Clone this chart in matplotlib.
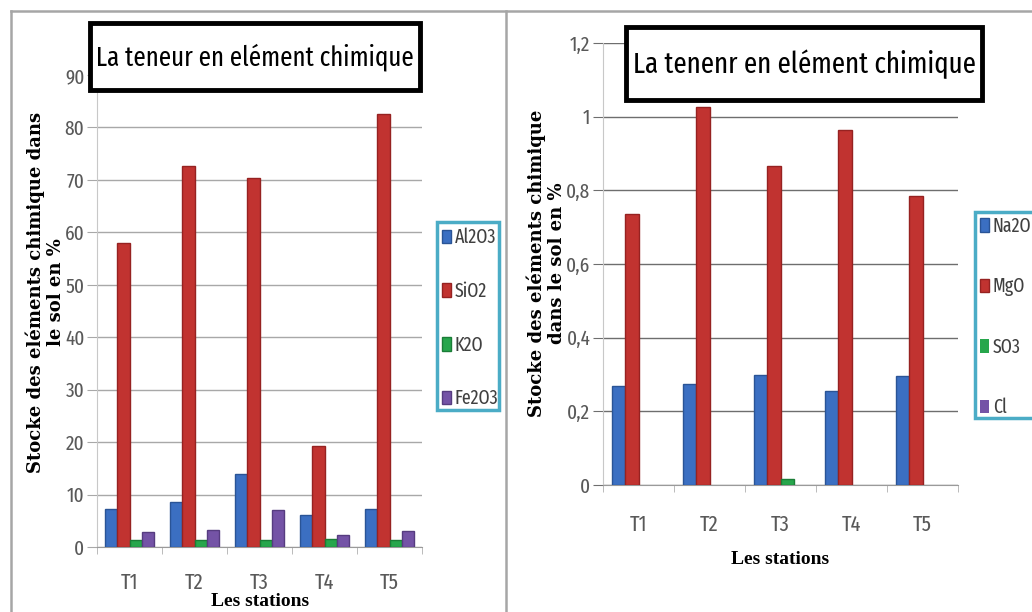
import numpy as np
import matplotlib
matplotlib.use("Agg")
import matplotlib.pyplot as plt
from matplotlib import font_manager as fm
from matplotlib.patches import Rectangle
from matplotlib.lines import Line2D

W, H = 1032, 612

stations = ['T1', 'T2', 'T3', 'T4', 'T5']

# major oxides (%)
major_names = ['Al2O3', 'SiO2', 'K2O', 'Fe2O3']
al2o3 = [7.2, 8.6, 13.9, 6.1, 7.3]
sio2 = [58.0, 72.7, 70.3, 19.3, 82.5]
k2o = [1.4, 1.4, 1.4, 1.6, 1.4]
fe2o3 = [2.9, 3.2, 7.1, 2.3, 3.1]

# minor elements (%)
minor_names = ['Na2O', 'MgO', 'SO3', 'Cl']
na2o = [0.268, 0.274, 0.300, 0.254, 0.295]
mgo = [0.737, 1.025, 0.866, 0.965, 0.785]
so3 = [0.0, 0.0, 0.017, 0.0, 0.0]
cl = [0.0, 0.0, 0.0, 0.0, 0.0]

left_ticks = [0, 10, 20, 30, 40, 50, 60, 70, 80, 90]
right_ticks = [0, 0.2, 0.4, 0.6, 0.8, 1.0, 1.2]

colors = ['#3b6fc2', '#c13330', '#27a64c', '#7453a6']
edges = ['#2a5496', '#962221', '#1b7d37', '#563c80']


def find_narrow_sans():
    # narrowest installed regular sans face, Lato if none
    rank = {'extra-condensed': 0, 'ultra-condensed': 0, 'condensed': 1, 'semi-condensed': 2}
    best, best_rank = None, 99
    for f in fm.fontManager.ttflist:
        if 'Serif' in f.name or 'Mono' in f.name or f.style != 'normal':
            continue
        w = f.weight if isinstance(f.weight, int) else {'normal': 400, 'regular': 400}.get(str(f.weight), 700)
        if w != 400:
            continue
        fname = f.fname.replace('-', '').replace('_', '')
        if 'ExtraCondensed' in fname or 'UltraCondensed' in fname:
            r = 0
        elif f.stretch in rank:
            r = rank[f.stretch]
        elif 'Narrow' in f.name or 'SemiCondensed' in fname:
            r = 2
        elif 'Condensed' in f.name or 'Condensed' in fname:
            r = 1
        else:
            continue
        if r < best_rank:
            best, best_rank = f, r
    if best is None:
        return fm.FontProperties(family='Lato')
    return fm.FontProperties(fname=best.fname)


narrow = find_narrow_sans()
serif_bold = fm.FontProperties(family='DejaVu Serif', weight='bold', stretch='normal')


def fp(size, base=narrow):
    p = base.copy()
    p.set_size(size)
    return p


def fx(px):
    return px / W


def fy(py):
    return 1 - py / H


fig = plt.figure(figsize=(W / 100, H / 100), dpi=100)
fig.patch.set_facecolor('white')
renderer = fig.canvas.get_renderer()


def fit_length(t, target):
    # scale a text's font size so that it spans `target` pixels
    bb = t.get_window_extent(renderer)
    t.set_fontsize(t.get_fontsize() * target / bb.width)


def draw_panel(ax, series, names, ymax, ticks, ticklabels, gridcolor, xpad):
    x = np.arange(len(stations))
    bw = 0.185
    for i, (vals, name) in enumerate(zip(series, names)):
        lw = [1.0 if v > 0 else 0 for v in vals]
        ax.bar(x + (i - 1.5) * bw, vals, bw, color=colors[i], label=name,
               edgecolor=edges[i], linewidth=lw, zorder=3)
    ax.set_xlim(-0.5, len(stations) - 0.5)
    ax.set_ylim(0, ymax)
    ax.set_yticks(ticks)
    ax.set_yticklabels(ticklabels, fontproperties=fp(15), color='#595959')
    ax.set_xticks(x)
    ax.set_xticklabels(stations, fontproperties=fp(16), color='#595959')
    ax.set_xticks(np.arange(-0.5, len(stations)), minor=True)
    ax.tick_params(axis='x', which='major', length=0, pad=xpad)
    ax.tick_params(axis='x', which='minor', length=5, color='#b0b0b0', direction='out')
    ax.tick_params(axis='y', length=7, color=gridcolor, pad=2)
    ax.yaxis.grid(True, color=gridcolor, linewidth=1.0, zorder=0)
    for s in ['top', 'right']:
        ax.spines[s].set_visible(False)
    ax.spines['left'].set_color('#c8c8c8')
    ax.spines['bottom'].set_color('#9a9a9a')


def title_box(x0, y0, x1, y1, text):
    fig.patches.append(Rectangle((fx(x0), fy(y1)), fx(x1) - fx(x0), fy(y0) - fy(y1),
                                 transform=fig.transFigure, facecolor='white',
                                 edgecolor='black', linewidth=3.5, zorder=5))
    t = fig.text(fx((x0 + x1) / 2), fy((y0 + y1) / 2 + 1), text, ha='center', va='center',
                 fontproperties=fp(24), color='black', zorder=6)
    fit_length(t, (x1 - x0) - 14)


def y_labels(xa, xb, yc, line1, line2):
    kw = dict(rotation=90, ha='center', va='center', fontproperties=fp(13, serif_bold))
    fig.text(fx(xa), fy(yc), line1, **kw)
    fig.text(fx(xb), fy(yc), line2, **kw)


def legend(ax, x0, y0, x1, y1, spacing):
    fig.patches.append(Rectangle((fx(x0), fy(y1)), fx(x1) - fx(x0), fy(y0) - fy(y1),
                                 transform=fig.transFigure, facecolor='white',
                                 edgecolor='#4bacc6', linewidth=2.5, zorder=4))
    leg = fig.legend(*ax.get_legend_handles_labels(), loc='center left',
                     bbox_to_anchor=(fx(x0 + 5), fy((y0 + y1) / 2 + 2)), borderaxespad=0,
                     frameon=False, labelspacing=spacing, handlelength=0.45,
                     handleheight=0.7, handletextpad=0.2, borderpad=0, prop=fp(14))
    leg.set_zorder(6)
    for t in leg.get_texts():
        t.set_color('#404040')


# panel frames
frame = dict(color='#a6a6a6', linewidth=1.8, transform=fig.transFigure)
fig.add_artist(Line2D([fx(11), fx(1032)], [fy(11), fy(11)], **frame))
fig.add_artist(Line2D([fx(11), fx(11)], [fy(11), fy(612)], **frame))
fig.add_artist(Line2D([fx(506), fx(506)], [fy(11), fy(612)], **frame))

# left chart
ax1 = fig.add_axes([fx(97), fy(547), fx(422) - fx(97), fy(75) - fy(547)])
draw_panel(ax1, [al2o3, sio2, k2o, fe2o3], major_names, 90, left_ticks,
           [str(t) for t in left_ticks], '#a8a8a8', 18)
y_labels(35, 56, 292, 'Stocke des eléments chimique dans', 'le sol en %')
fig.text(fx(260), fy(602), 'Les stations', ha='center', va='center',
         fontfamily='Liberation Serif', fontweight='bold', fontsize=14)
title_box(90, 23, 420, 90, 'La teneur en elément chimique')
legend(ax1, 437, 222, 499, 410, 1.75)

# right chart
ax2 = fig.add_axes([fx(603), fy(485), fx(958) - fx(603), fy(43) - fy(485)])
draw_panel(ax2, [na2o, mgo, so3, cl], minor_names, 1.2, right_ticks,
           [('%g' % t).replace('.', ',') for t in right_ticks], '#6e6e6e', 21)
y_labels(536, 557, 263, 'Stocke des eléments chimique', 'dans le sol en %')
fig.text(fx(780), fy(560), 'Les stations', ha='center', va='center',
         fontfamily='Liberation Serif', fontweight='bold', fontsize=14)
title_box(626, 27, 982, 100, 'La tenenr en elément chimique')
legend(ax2, 975, 212, 1045, 418, 2.1)

fig.savefig('out.png', dpi=100)
